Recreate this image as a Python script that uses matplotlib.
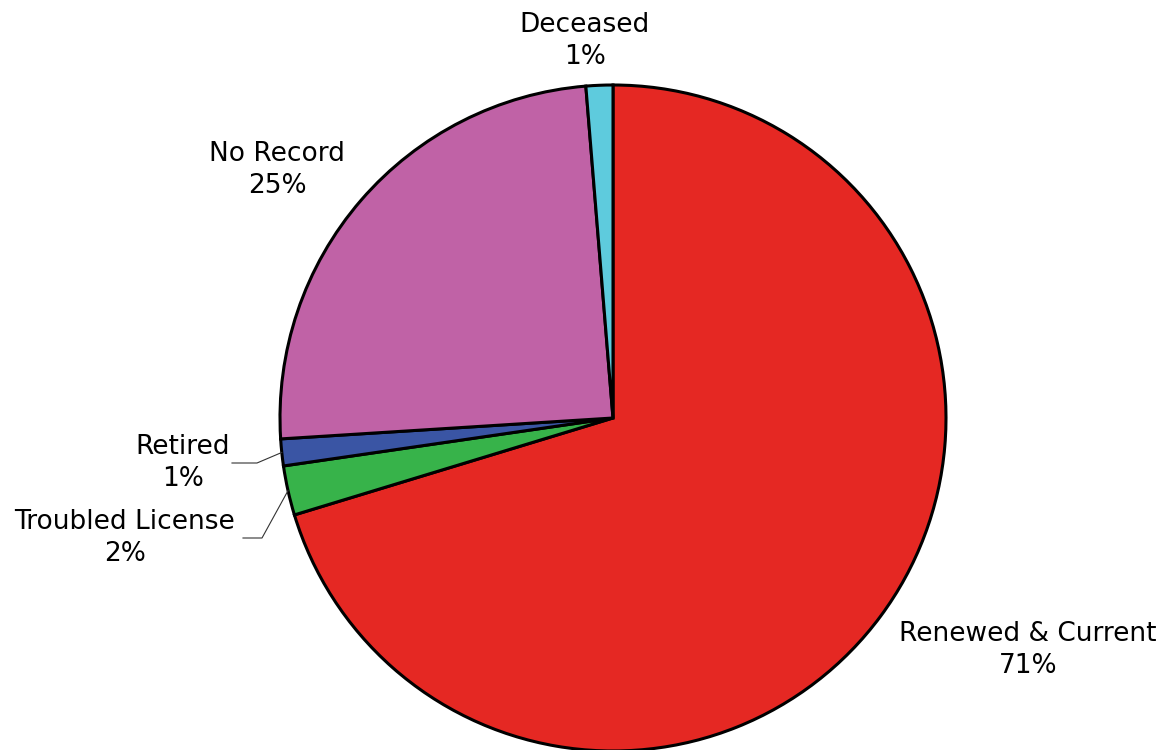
import matplotlib
matplotlib.use("Agg")
import matplotlib.pyplot as plt
import numpy as np

plt.rcParams['font.family'] = ['DejaVu Sans']

# slices, clockwise from 12 o'clock
categories = ["Renewed & Current", "Troubled License", "Retired", "No Record", "Deceased"]
shares = [70.3, 2.4, 1.3, 24.7, 1.3]
pct_labels = ["71%", "2%", "1%", "25%", "1%"]
colors = ["#E52823", "#37B34A", "#3A55A4", "#C062A6", "#5ECBDD"]

W, H = 1167, 750
fig = plt.figure(figsize=(W / 100, H / 100), dpi=100)
ax = fig.add_axes([0, 0, 1, 1])

cx, cy, R = 613, H - 418, 333
wedges, _ = ax.pie(shares, colors=colors, startangle=90, counterclock=False,
                   center=(cx, cy), radius=R, frame=True,
                   wedgeprops=dict(edgecolor="black", linewidth=2.2))
ax.set_xlim(0, W)
ax.set_ylim(0, H)
ax.set_aspect("equal")
ax.axis("off")

# label text positions (pixel coords, y from top)
label_pos = {
    "Renewed & Current": (1028, 650),
    "Troubled License": (125, 538),
    "Retired": (183, 463),
    "No Record": (277, 170),
    "Deceased": (585, 41),
}
for name, pct in zip(categories, pct_labels):
    x, y = label_pos[name]
    ax.text(x, H - y, name + "\n" + pct, ha="center", va="center",
            fontsize=19, linespacing=1.32, color="black")

# leader lines for the two thin slices on the left
def edge_point(w):
    mid = np.deg2rad((w.theta1 + w.theta2) / 2)
    return cx + R * np.cos(mid), cy + R * np.sin(mid)

leaders = {1: [(243, 538), (262, 538)], 2: [(232, 463), (257, 463)]}
for i, pts in leaders.items():
    ex, ey = edge_point(wedges[i])
    xs = [p[0] for p in pts] + [ex]
    ys = [H - p[1] for p in pts] + [ey]
    ax.plot(xs, ys, color="#333333", lw=0.8)

fig.savefig("out.png", dpi=100)
